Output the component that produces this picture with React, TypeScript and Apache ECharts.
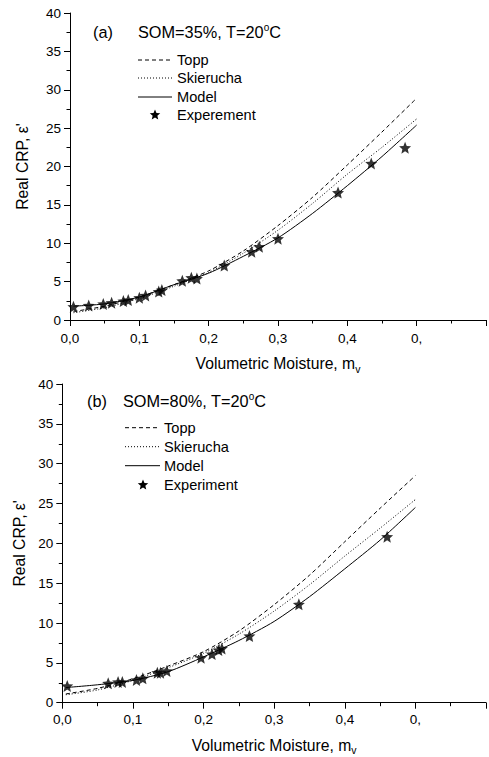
import React, { useEffect, useRef } from "react";
import * as echarts from "echarts";

// ---------- data ----------
const curveX = [0.005, 0.05, 0.1, 0.15, 0.2, 0.25, 0.3, 0.35, 0.4, 0.45, 0.5];

// panel (a) SOM=35%
const toppA = [1.1, 1.8, 3.0, 4.6, 6.4, 9.0, 12.3, 16.0, 20.2, 24.5, 28.9];
const skieruchaA = [0.95, 1.6, 2.8, 4.4, 6.2, 8.7, 11.7, 15.2, 19.0, 22.5, 26.2];
const modelA = [1.8, 2.1, 3.0, 4.6, 6.1, 8.3, 10.7, 13.9, 17.5, 21.3, 25.4];
const expAX = [0.005, 0.027, 0.048, 0.06, 0.077, 0.084, 0.1, 0.109, 0.128, 0.1325, 0.162, 0.175, 0.183, 0.2225, 0.262, 0.273, 0.3, 0.3866, 0.4345, 0.4833];
const expAY = [1.73, 1.9, 2.08, 2.26, 2.47, 2.6, 2.9, 3.2, 3.7, 3.9, 5.1, 5.5, 5.4, 7.1, 8.9, 9.55, 10.6, 16.6, 20.4, 22.45];

// panel (b) SOM=80%
const toppB = [1.1, 1.8, 3.0, 4.6, 6.4, 9.0, 12.3, 16.0, 20.2, 24.4, 28.5];
const skieruchaB = [1.0, 1.6, 2.8, 4.4, 6.2, 8.6, 11.5, 14.8, 18.4, 21.9, 25.5];
const modelB = [1.9, 2.25, 2.8, 3.9, 5.75, 7.8, 10.2, 13.3, 16.8, 20.4, 24.5];
const expBX = [0.007, 0.065, 0.079, 0.085, 0.105, 0.114, 0.1346, 0.139, 0.148, 0.1965, 0.212, 0.2215, 0.226, 0.265, 0.335, 0.46];
const expBY = [2.1, 2.43, 2.6, 2.6, 2.85, 3.06, 3.77, 3.77, 3.98, 5.65, 6.1, 6.6, 6.8, 8.37, 12.35, 20.84];

const xTickLabels = ["0,0", "0,1", "0,2", "0,3", "0,4", "0,", ""];
const yTickLabels = ["0", "5", "10", "15", "20", "25", "30", "35", "40"];

const legendA = ["Topp", "Skierucha", "Model", "Experement"];
const legendB = ["Topp", "Skierucha", "Model", "Experiment"];

// ---------- styling ----------
const FONT = "'Liberation Sans', Arial, Helvetica, sans-serif";
const STAR =
  "path://M0,-10 L2.6,-3.6 L9.51,-3.09 L4.3,1.4 L5.88,8.09 L0,4.5 L-5.88,8.09 L-4.3,1.4 L-9.51,-3.09 L-2.6,-3.6 Z";

function starPoints(cx: number, cy: number, r: number): number[][] {
  const pts: number[][] = [];
  for (let i = 0; i < 10; i++) {
    const a = (-90 + i * 36) * (Math.PI / 180);
    const rr = i % 2 === 0 ? r : r * 0.45;
    pts.push([cx + rr * Math.cos(a), cy + rr * Math.sin(a)]);
  }
  return pts;
}

const zip = (xs: number[], ys: number[]) => xs.map((x, i) => [x, ys[i]]);

function xAxis(gridIndex: number, margin: number, nameGap: number) {
  return {
    gridIndex,
    type: "value",
    min: 0,
    max: 0.6,
    interval: 0.1,
    axisLine: { show: true, onZero: false, lineStyle: { color: "#000", width: 1 } },
    axisTick: { show: true, inside: false, length: 6, lineStyle: { color: "#000", width: 1 } },
    minorTick: { show: true, splitNumber: 2, length: 3.5, lineStyle: { color: "#000", width: 1 } },
    splitLine: { show: false },
    minorSplitLine: { show: false },
    axisLabel: {
      margin,
      color: "#000",
      fontFamily: FONT,
      fontSize: 13.5,
      showMaxLabel: true,
      formatter: (v: number) => xTickLabels[Math.round(v / 0.1)] ?? "",
    },
    name: "Volumetric Moisture, m{sub|v}",
    nameLocation: "middle",
    nameGap,
    nameTextStyle: {
      color: "#000",
      fontFamily: FONT,
      fontSize: 15.7,
      rich: {
        sub: { fontSize: 10.5, fontFamily: FONT, color: "#000", padding: [10, 0, 0, 0] },
      },
    },
  };
}

function yAxis(gridIndex: number, nameGap: number) {
  return {
    gridIndex,
    type: "value",
    min: 0,
    max: 40,
    interval: 5,
    axisLine: { show: true, onZero: false, lineStyle: { color: "#000", width: 1 } },
    axisTick: { show: true, inside: false, length: 6, lineStyle: { color: "#000", width: 1 } },
    minorTick: { show: true, splitNumber: 2, length: 3.5, lineStyle: { color: "#000", width: 1 } },
    splitLine: { show: false },
    minorSplitLine: { show: false },
    axisLabel: {
      margin: 9,
      color: "#000",
      fontFamily: FONT,
      fontSize: 13.5,
      formatter: (v: number) => yTickLabels[Math.round(v / 5)] ?? "",
    },
    name: "Real CRP, ε'",
    nameLocation: "middle",
    nameGap,
    nameTextStyle: { color: "#000", fontFamily: FONT, fontSize: 15.7 },
  };
}

function curves(idx: number, topp: number[], skier: number[], model: number[], ex: number[], ey: number[]) {
  const base = { type: "line", xAxisIndex: idx, yAxisIndex: idx, showSymbol: false, symbol: "none", smooth: 0.25, z: 2 };
  return [
    { ...base, name: "Topp", data: zip(curveX, topp), lineStyle: { color: "#000", width: 1, type: [4, 3] } },
    { ...base, name: "Skierucha", data: zip(curveX, skier), lineStyle: { color: "#000", width: 1, type: [1, 2] } },
    { ...base, name: "Model", data: zip(curveX, model), lineStyle: { color: "#000", width: 1, type: "solid" } },
    {
      type: "scatter",
      name: "Exp",
      xAxisIndex: idx,
      yAxisIndex: idx,
      symbol: STAR,
      symbolSize: 12,
      itemStyle: { color: "#000" },
      data: zip(ex, ey),
      z: 3,
    },
  ];
}

function legendGraphics(
  labels: string[],
  lineX1: number,
  lineX2: number,
  textX: number,
  starX: number,
  ys: number[]
) {
  const dashes: (number[] | null)[] = [[4, 3], [1, 2], null];
  const g: any[] = [];
  for (let i = 0; i < 3; i++) {
    g.push({
      type: "line",
      shape: { x1: lineX1, y1: ys[i], x2: lineX2, y2: ys[i] },
      style: { stroke: "#000", lineWidth: 1, lineDash: dashes[i] || undefined },
    });
  }
  g.push({
    type: "polygon",
    shape: { points: starPoints(starX, ys[3], 5.5) },
    style: { fill: "#000" },
  });
  labels.forEach((t, i) => {
    g.push({
      type: "text",
      x: textX,
      y: ys[i],
      style: { text: t, fontFamily: FONT, fontSize: 14.6, fill: "#000", verticalAlign: "middle", align: "left" },
    });
  });
  return g;
}

function titleGraphics(tag: string, tagX: number, som: string, somX: number, y: number) {
  return [
    {
      type: "text",
      x: tagX,
      y,
      style: { text: tag, fontFamily: FONT, fontSize: 16.3, fill: "#000", verticalAlign: "middle" },
    },
    {
      type: "text",
      x: somX,
      y,
      style: {
        text: som + "{sup|o}C",
        fontFamily: FONT,
        fontSize: 16.3,
        fill: "#000",
        verticalAlign: "middle",
        rich: { sup: { fontSize: 10, fontFamily: FONT, fill: "#000", padding: [0, 0, 10, 0] } },
      },
    },
  ];
}

export default function App() {
  const ref = useRef<HTMLDivElement>(null);
  useEffect(() => {
    if (!ref.current) return;
    const chart = echarts.init(ref.current, undefined, { renderer: "svg" });
    chart.setOption({
      animation: false,
      backgroundColor: "#fff",
      grid: [
        { left: 70, top: 13, width: 418, height: 307 },
        { left: 62.3, top: 384, width: 432.6, height: 318.7 },
      ],
      xAxis: [xAxis(0, 11, 33), xAxis(1, 10, 32)],
      yAxis: [yAxis(0, 40), yAxis(1, 33)],
      series: [
        ...curves(0, toppA, skieruchaA, modelA, expAX, expAY),
        ...curves(1, toppB, skieruchaB, modelB, expBX, expBY),
      ],
      graphic: [
        ...titleGraphics("(a)", 93, "SOM=35%, T=20", 138, 32),
        ...legendGraphics(legendA, 138, 172, 177, 155, [60, 78, 97, 115]),
        ...titleGraphics("(b)", 87, "SOM=80%, T=20", 123, 401),
        ...legendGraphics(legendB, 125, 160, 164, 143, [427.7, 446.7, 465.7, 485]),
      ],
    });
    return () => chart.dispose();
  }, []);
  return (
    <div
      ref={ref}
      style={{ position: "absolute", left: 0, top: 0, width: 489, height: 757, background: "#fff" }}
    />
  );
}
